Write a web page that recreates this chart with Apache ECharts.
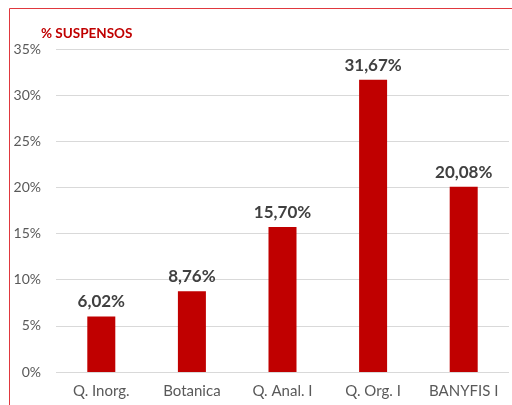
<!DOCTYPE html>
<html>
<head>
<meta charset="utf-8">
<script src="https://cdn.jsdelivr.net/npm/echarts@6/dist/echarts.min.js"></script>
<style>
  html, body { margin: 0; padding: 0; background: #fff; }
  #chart { width: 512px; height: 405px; }
</style>
</head>
<body>
<div id="chart"></div>
<script>
  // datos
  const materias = ['Q. Inorg.', 'Botanica', 'Q. Anal. I', 'Q. Org. I', 'BANYFIS I'];
  const suspensos = [6.02, 8.76, 15.70, 31.67, 20.08];
  const yTicks = [0, 5, 10, 15, 20, 25, 30, 35];

  let chart = echarts.init(document.getElementById('chart'));
  let option = {
    animation: false,
    textStyle: { fontFamily: 'Lato' },
    title: {
      text: '% SUSPENSOS',
      left: 36,
      top: 22,
      textStyle: { color: '#c00000', fontSize: 13.5, fontWeight: 'bold', fontFamily: 'Lato' }
    },
    graphic: [
      { type: 'line', shape: { x1: 9.5, y1: 8.5, x2: 9.5, y2: 405 }, style: { stroke: '#e0383e', lineWidth: 1 } },
      { type: 'line', shape: { x1: 9.5, y1: 8.5, x2: 512, y2: 8.5 }, style: { stroke: '#e0383e', lineWidth: 1 } }
    ],
    grid: { left: 56, right: 3, top: 49, bottom: 33 },
    xAxis: {
      type: 'category',
      data: materias,
      axisLine: { show: false },
      axisTick: { show: false },
      axisLabel: { color: '#595959', fontSize: 15, margin: 12 }
    },
    yAxis: {
      type: 'value',
      min: yTicks[0],
      max: yTicks[yTicks.length - 1],
      interval: 5,
      axisLine: { show: false },
      axisTick: { show: false },
      splitLine: { lineStyle: { color: '#d9d9d9', width: 1 } },
      axisLabel: {
        color: '#595959',
        fontSize: 14,
        margin: 15,
        formatter: v => v + '%'
      }
    },
    series: [{
      type: 'bar',
      data: suspensos,
      barWidth: 28,
      itemStyle: { color: '#c00000' },
      label: {
        show: true,
        position: 'top',
        distance: 6,
        color: '#404040',
        fontSize: 17,
        fontWeight: 'bold',
        formatter: p => p.value.toFixed(2).replace('.', ',') + '%'
      }
    }]
  };
  chart.setOption(option);
  window.addEventListener('resize', function () {
    chart.resize();
  });
</script>
</body>
</html>
